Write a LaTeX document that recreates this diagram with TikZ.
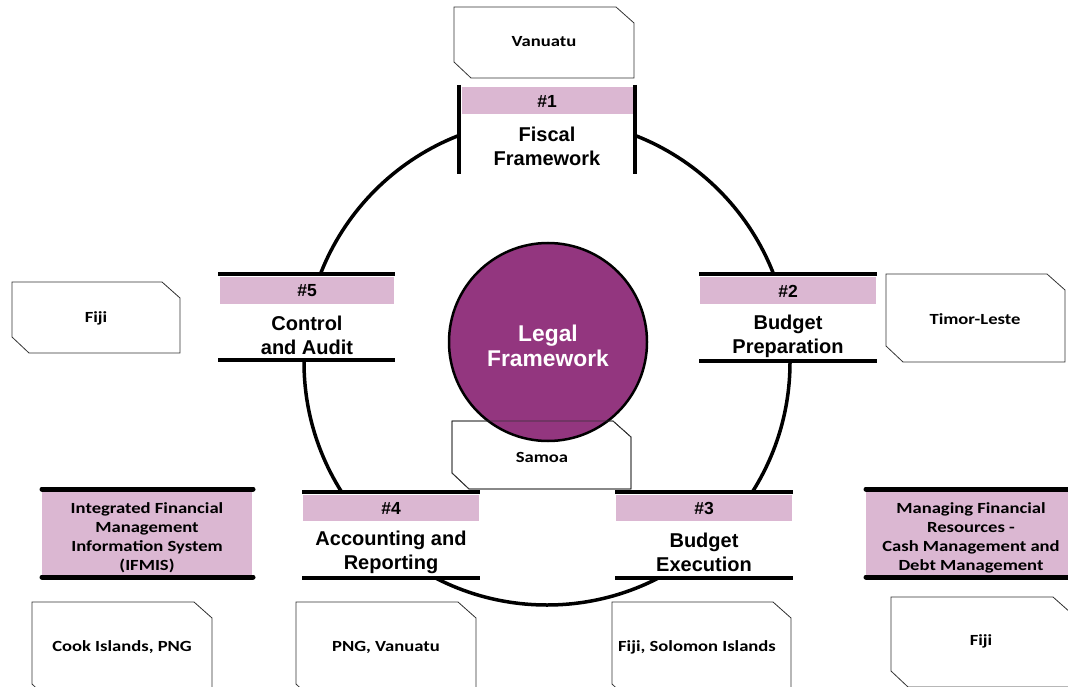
\documentclass[tikz,border=0pt]{standalone}
\usepackage{fontspec}
\setmainfont{Liberation Sans}
\newfontfamily\calfont[FakeStretch=1.2]{Carlito}
\definecolor{pinkband}{HTML}{DBB7D2}
\definecolor{legalpurple}{HTML}{93367F}
\definecolor{boxline}{HTML}{333333}
\newcommand{\snipbox}[5]{% name, x1,y1,x2,y2
  \path[snip] (#2,#3) -- ({#4-18},#3) -- (#4,{#3+16}) -- (#4,#5) -- ({#2+17},#5) -- (#2,{#5-16}) -- cycle;
}
\tikzset{
  snip/.style={draw=boxline, line width=0.8pt, fill=white},
  ring/.style={draw=black, line width=3.5pt},
  bar/.style={draw=black, line width=3.5pt},
  band/.style={fill=pinkband, draw=none},
  mask/.style={fill=white, draw=none},
  numtxt/.style={font=\bfseries\fontsize{17.5}{20}\selectfont, inner sep=0pt},
  stagetxt/.style={font=\bfseries\fontsize{20}{24}\selectfont, align=center, inner sep=0pt},
  boxtxt/.style={font=\calfont\bfseries\fontsize{15.5}{19}\selectfont, align=center, inner sep=0pt},
  thickbar/.style={draw=black, line width=5pt, line cap=round},
}
\begin{document}
\begin{tikzpicture}[x=1pt,y=-1pt]
\useasboundingbox (0,0) rectangle (1068,687);
\clip (0,0) rectangle (1068,687);

% main ring
\draw[ring] (547,362) circle (243);

% stage #1
\path[mask] (459,83) rectangle (635,175);
\path[band] (462,87) rectangle (633,114);
\draw[bar] (459,85) -- (459,174);
\draw[bar] (635,85) -- (635,174);
\node[numtxt] (n1) at (547,101) {\#1};
\node[stagetxt] (s1) at (547,146.5) {Fiscal\\Framework};

% stage #5
\path[mask] (218,274) rectangle (395,360);
\path[band] (220,277) rectangle (394,304);
\draw[bar] (218,274) -- (395,274);
\draw[bar] (218,360) -- (395,360);
\node[numtxt] (n5) at (307,291) {\#5};
\node[stagetxt] (s5) at (307,335.5) {Control\\and Audit};

% stage #2
\path[mask] (699,274) rectangle (877,361);
\path[band] (700,277) rectangle (876,304);
\draw[bar] (699,274) -- (877,274);
\draw[bar] (699,361) -- (877,361);
\node[numtxt] (n2) at (788,291) {\#2};
\node[stagetxt] (s2) at (788,336) {Budget\\Preparation};

% stage #4
\path[mask] (302,492) rectangle (480,578);
\path[band] (303,495) rectangle (479,521);
\draw[bar] (302,492) -- (480,492);
\draw[bar] (302,578) -- (480,578);
\node[numtxt] (n4) at (391,508) {\#4};
\node[stagetxt] (s4) at (391,552) {Accounting and\\Reporting};

% stage #3
\path[mask] (615,492) rectangle (793,578);
\path[band] (616,495) rectangle (792,521);
\draw[bar] (615,492) -- (793,492);
\draw[bar] (615,578) -- (793,578);
\node[numtxt] (n3) at (704,508) {\#3};
\node[stagetxt] (s3) at (704,552) {Budget\\Execution};

% Samoa box under legal circle
\snipbox{samoa}{452}{421}{631}{489}
\node[circle, fill=legalpurple, draw=black, line width=2.5pt, minimum size=198pt, inner sep=0pt] (legal) at (548,342) {};
\path[snip, fill=none] (452,421) -- (613,421) -- (631,437) -- (631,489) -- (469,489) -- (452,473) -- cycle;
\node[font=\bfseries\fontsize{22.8}{25}\selectfont, text=white, align=center, inner sep=0pt] (legaltxt) at (548,346) {Legal\\Framework};
\node[boxtxt] (samoatxt) at (542,457) {Samoa};

% country boxes
\snipbox{vanuatu}{454}{7}{634}{78}
\node[boxtxt] (vanuatutxt) at (544,42) {Vanuatu};
\snipbox{fijiL}{12}{282}{180}{353}
\node[boxtxt] (fijiLtxt) at (96,318) {Fiji};
\snipbox{timor}{886}{274}{1065}{362}
\node[boxtxt] (timortxt) at (975,319) {Timor-Leste};
\snipbox{cook}{32}{602}{212}{700}
\node[boxtxt] (cooktxt) at (122,647) {Cook Islands, PNG};
\snipbox{png}{296}{602}{476}{700}
\node[boxtxt] (pngtxt) at (386,647) {PNG, Vanuatu};
\snipbox{fijisol}{612}{602}{791}{700}
\node[boxtxt] (fijisoltxt) at (697,647) {Fiji, Solomon Islands};
\snipbox{fijiR}{891}{597}{1071}{687}
\node[boxtxt] (fijiRtxt) at (981,641) {Fiji};

% thematic boxes
\path[band] (42,489) rectangle (252,577);
\draw[thickbar] (42,489) -- (253,489);
\draw[thickbar] (42,577) -- (253,577);
\node[boxtxt] (ifmis) at (147,537.5) {Integrated Financial\\Management\\Information System\\(IFMIS)};

\path[band] (866,489) rectangle (1075,577);
\draw[thickbar] (866,489) -- (1075,489);
\draw[thickbar] (866,577) -- (1075,577);
\node[boxtxt] (managing) at (971,537.5) {Managing Financial\\Resources -\\Cash Management and\\Debt Management};
\end{tikzpicture}
\end{document}
